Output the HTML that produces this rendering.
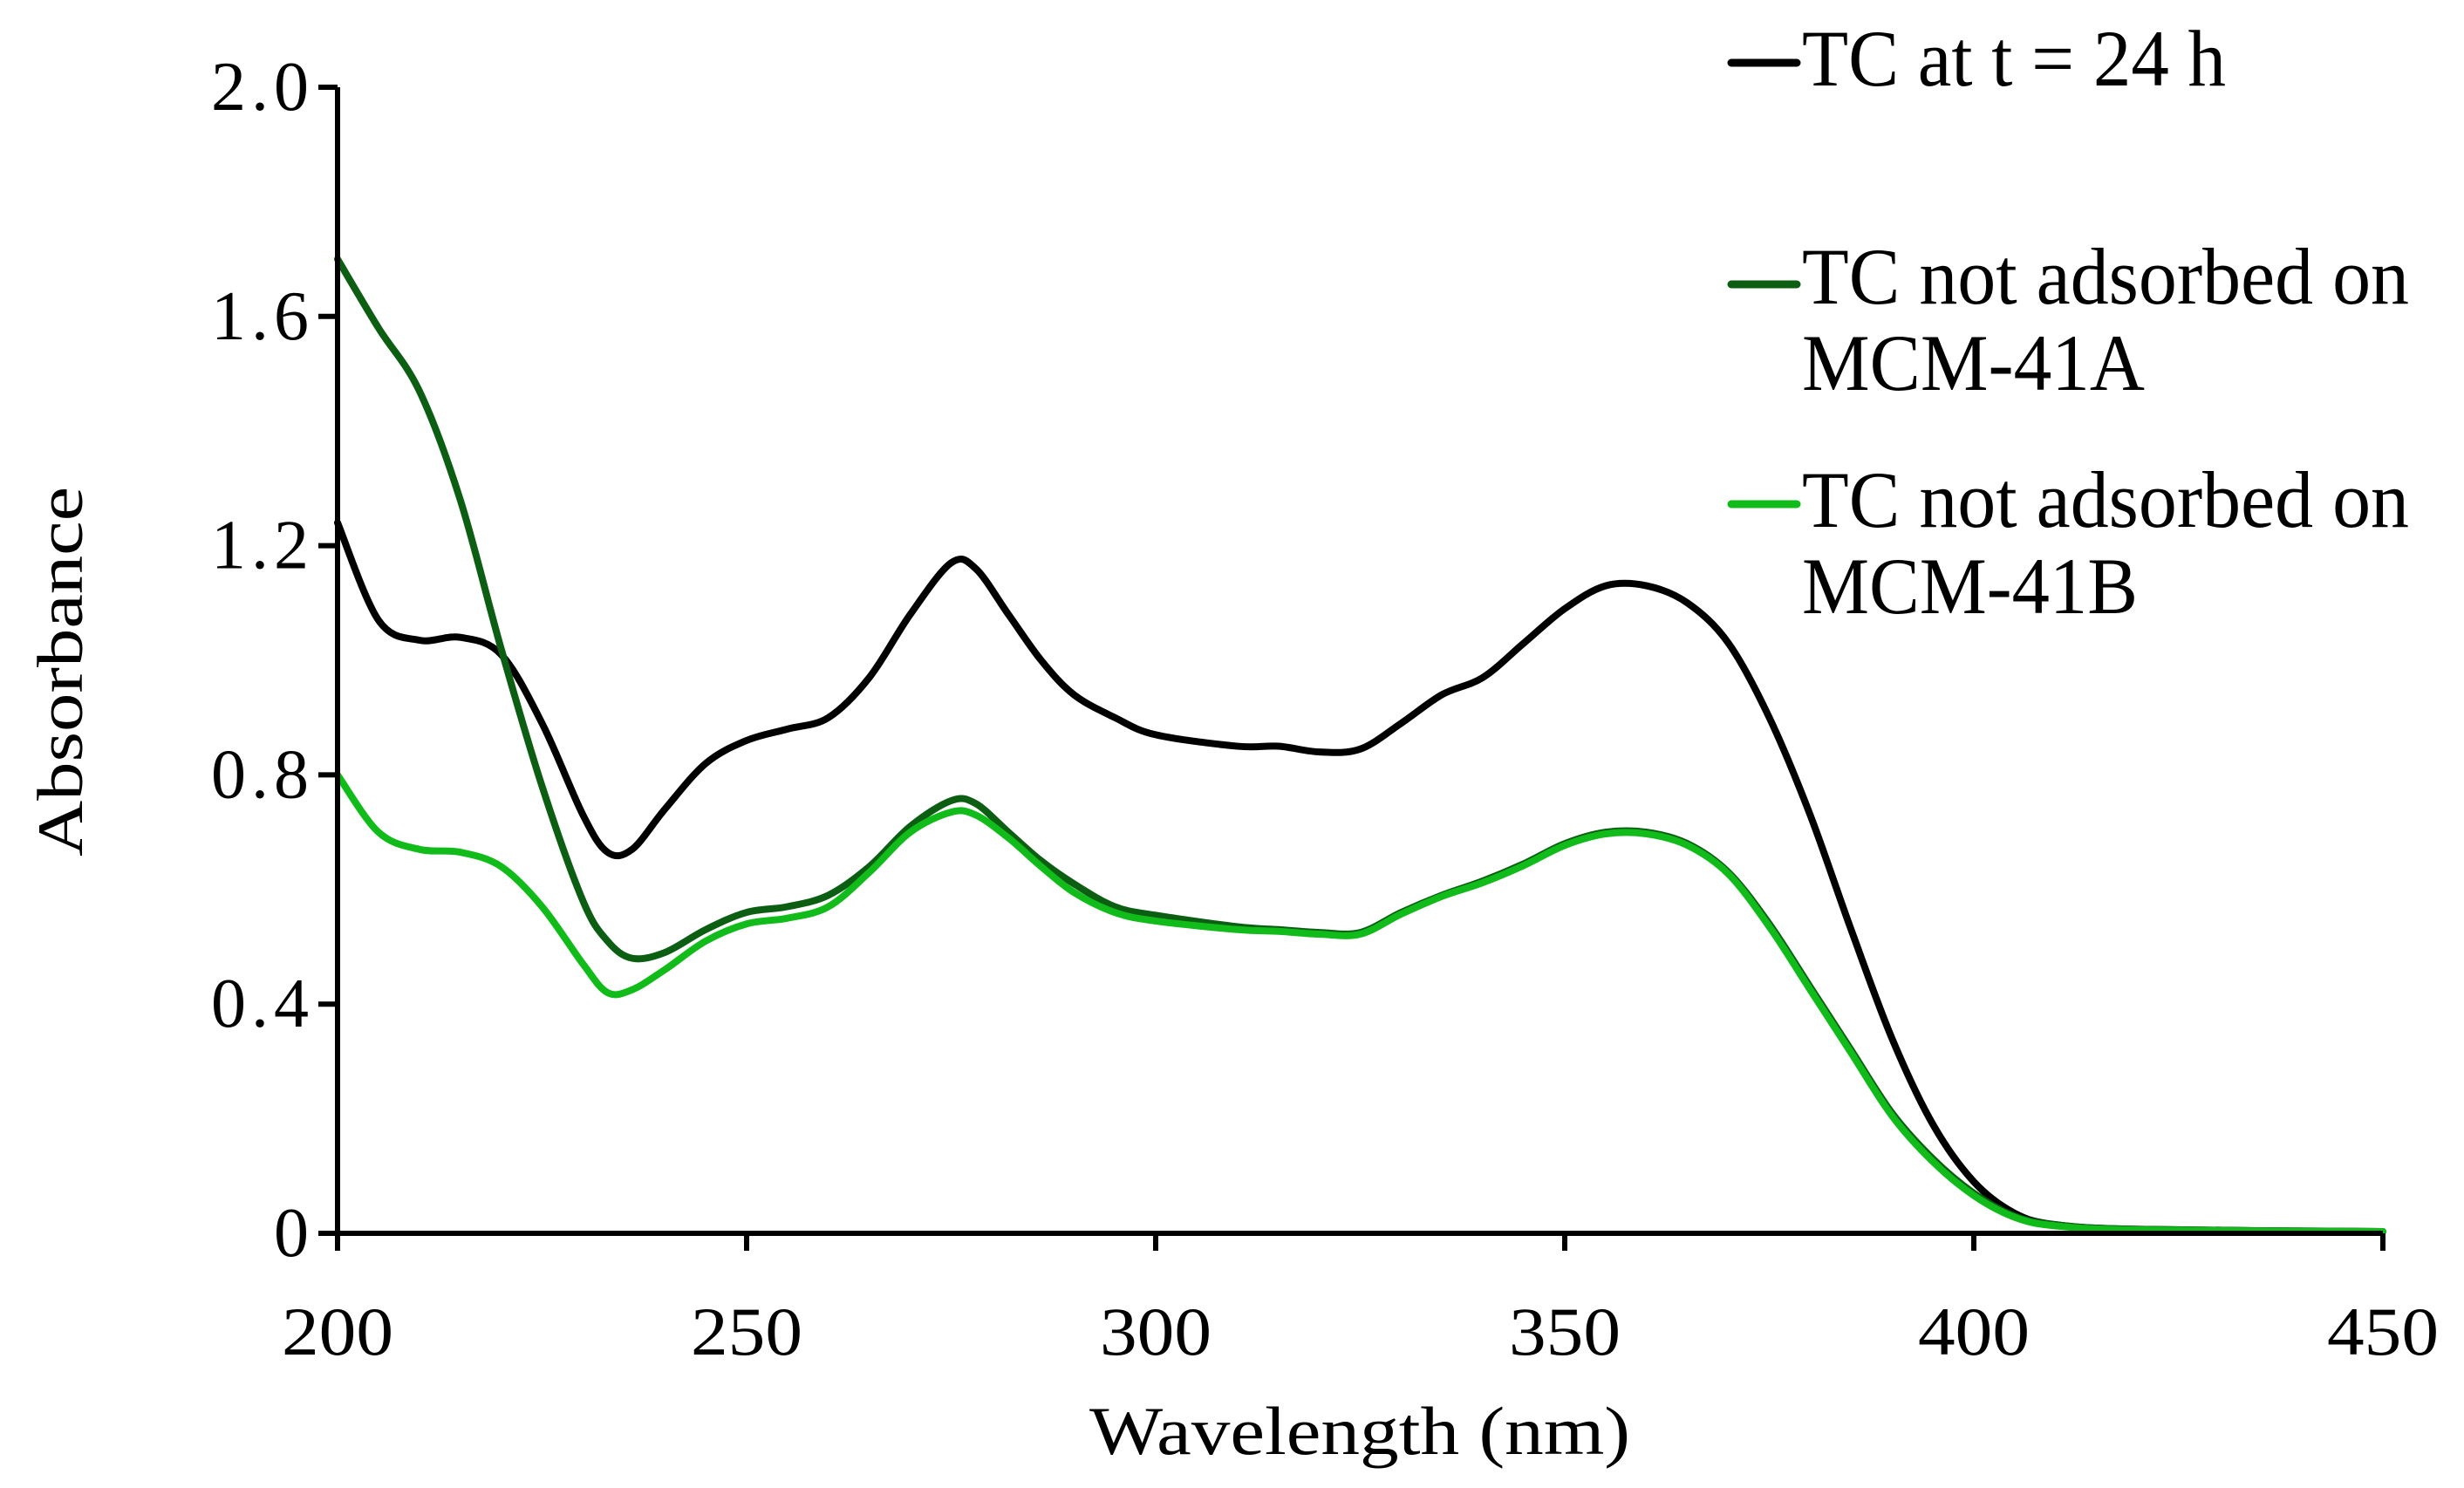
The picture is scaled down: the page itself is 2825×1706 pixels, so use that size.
<!DOCTYPE html>
<html><head><meta charset="utf-8"><style>
html,body{margin:0;padding:0;background:#fff;}
svg{display:block;font-family:"Liberation Serif","Times New Roman",serif;}
</style></head><body>
<svg id="chart" width="2825" height="1706" viewBox="0 0 2825 1706" xmlns="http://www.w3.org/2000/svg">
<g id="plot"></g>
<g id="axes"></g>
<g id="legend"></g>
</svg>
<script>
const wavelengths = [200,205,210,215,220,225,230,233,236,240,245,250,255,260,265,270,275,278,282,286,290,295,300,310,315,320,325,330,335,340,345,350,355,360,365,370,375,380,385,390,395,400,405,410,420,450];
const seriesTC24 = [1.24,1.07,1.035,1.04,1.01,0.89,0.73,0.665,0.67,0.74,0.82,0.86,0.88,0.90,0.97,1.08,1.17,1.16,1.08,1.0,0.94,0.90,0.87,0.85,0.85,0.84,0.845,0.89,0.94,0.97,1.03,1.09,1.13,1.13,1.10,1.03,0.90,0.73,0.53,0.34,0.19,0.09,0.035,0.015,0.007,0.003];
const seriesA = [1.70,1.58,1.47,1.28,1.02,0.78,0.58,0.51,0.48,0.49,0.53,0.56,0.57,0.59,0.64,0.71,0.755,0.75,0.70,0.65,0.61,0.57,0.555,0.535,0.53,0.525,0.525,0.56,0.59,0.615,0.645,0.68,0.70,0.70,0.68,0.63,0.54,0.43,0.32,0.21,0.13,0.07,0.03,0.015,0.007,0.003];
const seriesB = [0.80,0.70,0.67,0.665,0.64,0.57,0.47,0.42,0.425,0.46,0.51,0.54,0.55,0.57,0.63,0.70,0.735,0.73,0.69,0.64,0.595,0.56,0.545,0.53,0.527,0.522,0.522,0.557,0.588,0.612,0.642,0.677,0.697,0.697,0.677,0.627,0.535,0.425,0.315,0.205,0.125,0.066,0.028,0.013,0.006,0.003];
const xTicks = [200,250,300,350,400,450];
const yTicks = [0,0.4,0.8,1.2,1.6,2.0];
const yTickLabels = ["0","0.4","0.8","1.2","1.6","2.0"];

const X0=387, X1=2732, Y0=1414, Y1=100;
const xs = v => X0 + (v-200)/250*(X1-X0);
const ys = v => Y0 - v/2.0*(Y0-Y1);
const NS="http://www.w3.org/2000/svg";
function mk(tag, attrs, parent){const e=document.createElementNS(NS,tag);for(const k in attrs)e.setAttribute(k,attrs[k]);parent.appendChild(e);return e;}
function smooth(xv,yv){
  const p=xv.map((x,i)=>[xs(x),ys(yv[i])]);
  let d=`M${p[0][0]},${p[0][1]}`;
  for(let i=0;i<p.length-1;i++){
    const p0=p[i-1]||p[i],p1=p[i],p2=p[i+1],p3=p[i+2]||p2;
    const c1=[p1[0]+(p2[0]-p0[0])/6,p1[1]+(p2[1]-p0[1])/6];
    const c2=[p2[0]-(p3[0]-p1[0])/6,p2[1]-(p3[1]-p1[1])/6];
    d+=` C${c1[0]},${c1[1]} ${c2[0]},${c2[1]} ${p2[0]},${p2[1]}`;
  }
  return d;
}
const plot=document.getElementById('plot');
const axes=document.getElementById('axes');
const legend=document.getElementById('legend');
const series=[
 {name:'series-tc-24h',vals:seriesTC24,color:'#000000'},
 {name:'series-mcm-41a',vals:seriesA,color:'#0b5e12'},
 {name:'series-mcm-41b',vals:seriesB,color:'#10bb1a'}
];
series.forEach(s=>{
  const el=mk('path',{d:smooth(wavelengths,s.vals),fill:'none',stroke:s.color,'stroke-width':8,'stroke-linejoin':'round','stroke-linecap':'round'},plot);
  
  
});
let a=mk('line',{x1:X0,y1:Y1,x2:X0,y2:Y0+18,stroke:'#000','stroke-width':6},axes);


a=mk('line',{x1:X0-22,y1:Y0,x2:X1,y2:Y0,stroke:'#000','stroke-width':6},axes);


yTicks.forEach((v,i)=>{
  const t=mk('line',{x1:X0-22,y1:ys(v),x2:X0,y2:ys(v),stroke:'#000','stroke-width':6},axes);
  
  
  const l=mk('text',{x:360,y:ys(v)+26,'text-anchor':'end','font-size':80,'letter-spacing':6},axes);
  l.textContent=yTickLabels[i];
  
  
});
xTicks.forEach(v=>{
  const t=mk('line',{x1:xs(v),y1:Y0,x2:xs(v),y2:Y0+20,stroke:'#000','stroke-width':6},axes);
  
  
  const l=mk('text',{x:xs(v),y:1553,'text-anchor':'middle','font-size':78,'textLength':128,'lengthAdjust':'spacingAndGlyphs'},axes);
  l.textContent=String(v);
  
  
});
let tt=mk('text',{x:1559,y:1667,'text-anchor':'middle','font-size':78,'textLength':620,'lengthAdjust':'spacingAndGlyphs'},axes);
tt.textContent='Wavelength  (nm)';


tt=mk('text',{x:0,y:0,'text-anchor':'middle','font-size':74,transform:'translate(94,770) rotate(-90)','textLength':424,'lengthAdjust':'spacingAndGlyphs'},axes);
tt.textContent='Absorbance';


const legItems=[
 {line:72,color:'#000000',texts:[['TC at t = 24 h',98,486]]},
 {line:326,color:'#0b5e12',texts:[['TC not adsorbed on',348,696],['MCM-41A',447,393]]},
 {line:578,color:'#10bb1a',texts:[['TC not adsorbed on',604,696],['MCM-41B',703,385]]}
];
legItems.forEach(it=>{
  const ln=mk('line',{x1:1985,y1:it.line,x2:2060,y2:it.line,stroke:it.color,'stroke-width':9,'stroke-linecap':'round'},legend);
  
  
  it.texts.forEach(t=>{
    const tx=mk('text',{x:2066,y:t[1],'font-size':92,'textLength':t[2],'lengthAdjust':'spacingAndGlyphs'},legend);
    tx.textContent=t[0];
    
    
  });
});
</script>
</body></html>
